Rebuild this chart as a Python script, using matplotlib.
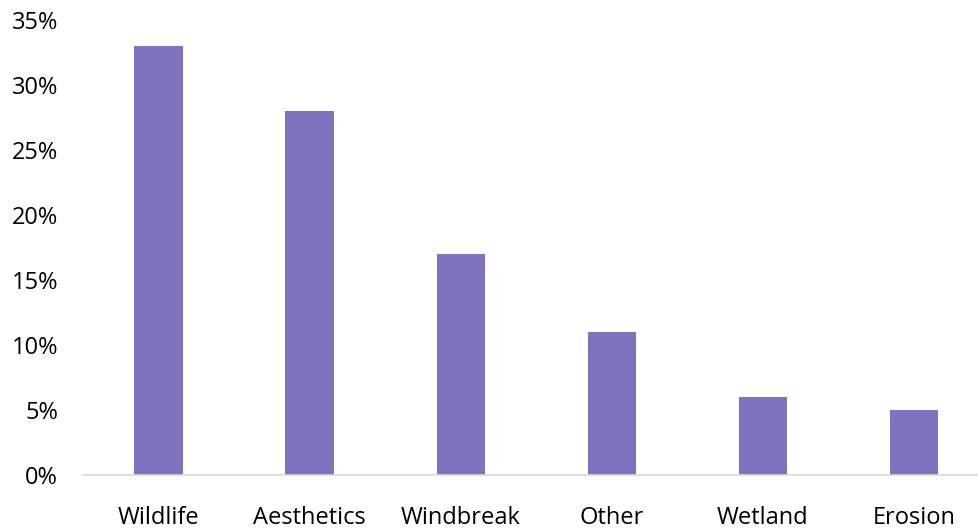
import matplotlib.pyplot as plt
from matplotlib.ticker import PercentFormatter

categories = ["Wildlife", "Aesthetics", "Windbreak", "Other", "Wetland", "Erosion"]
values = [33, 28, 17, 11, 6, 5]

plt.rcParams['font.family'] = ['Open Sans', 'DejaVu Sans']

fig = plt.figure(figsize=(9.79, 5.32), dpi=100)
ax = fig.add_axes([0.0848, 0.1071, 0.926, 0.855])

x = range(len(categories))
ax.bar(x, values, width=0.32, color="#7F73BF")

ax.set_xlim(-0.5, len(categories) - 0.5)
ax.set_ylim(0, 35)
ax.set_yticks(range(0, 36, 5))
ax.yaxis.set_major_formatter(PercentFormatter(decimals=0))
ax.set_xticks(list(x))
ax.set_xticklabels(categories)

for s in ["top", "right", "left"]:
    ax.spines[s].set_visible(False)
ax.spines["bottom"].set_color("#D9D9D9")
ax.spines["bottom"].set_linewidth(1.2)
ax.tick_params(axis="both", length=0, labelsize=17, colors="black")
ax.tick_params(axis="x", pad=22)
ax.tick_params(axis="y", pad=18)

fig.savefig("out.png", dpi=100)
